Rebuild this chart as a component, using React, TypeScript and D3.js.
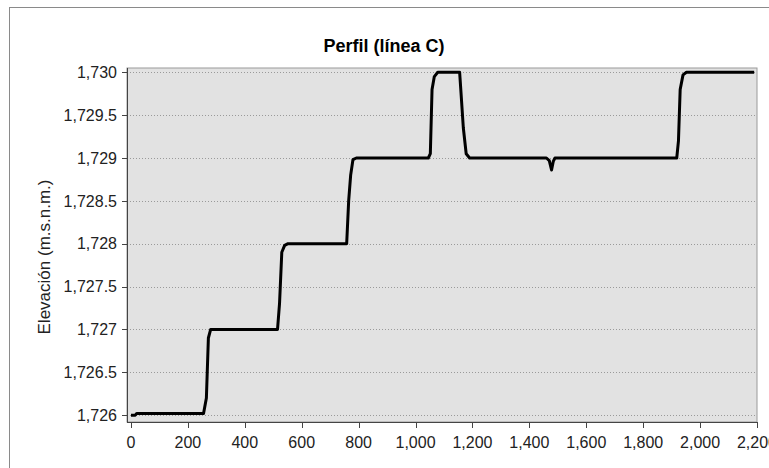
import React from "react";
import * as d3 from "d3";

const distance = [0, 15, 20, 255, 265, 272, 280, 515, 522, 530, 540, 552, 758, 765, 772, 780, 792, 1045, 1052, 1058, 1066, 1078, 1155, 1160, 1168, 1178, 1190, 1460, 1470, 1478, 1484, 1490, 1918, 1924, 1930, 1940, 1952, 2190];
const elevation = [1726.0, 1726.0, 1726.02, 1726.02, 1726.2, 1726.9, 1727.0, 1727.0, 1727.3, 1727.9, 1727.98, 1728.0, 1728.0, 1728.5, 1728.8, 1728.98, 1729.0, 1729.0, 1729.05, 1729.8, 1729.95, 1730.0, 1730.0, 1729.75, 1729.35, 1729.05, 1729.0, 1729.0, 1728.97, 1728.86, 1728.96, 1729.0, 1729.0, 1729.2, 1729.8, 1729.97, 1730.0, 1730.0];
const xTicks = [0, 200, 400, 600, 800, 1000, 1200, 1400, 1600, 1800, 2000, 2200];
const yTicks = [1726, 1726.5, 1727, 1727.5, 1728, 1728.5, 1729, 1729.5, 1730];

const W = 769, H = 468;
const left = 127, right = 757, top = 68, bottom = 422;

export default function App() {
  const x = d3.scaleLinear().domain([-14, 2200]).range([left, right]);
  const y = d3.scaleLinear().domain([1725.92, 1730.05]).range([bottom, top]);
  const fmtX = d3.format(",");
  const fmtY = (v: number) => d3.format(",")(v);
  const pts = distance.map((d, i) => [d, elevation[i]] as [number, number]);
  const line = d3.line<[number, number]>().x(d => x(d[0])).y(d => y(d[1]))(pts) || "";
  const font = "'Liberation Sans', Arial, sans-serif";
  return (
    <svg width={W} height={H} style={{ position: "absolute", left: 0, top: 0, background: "#fff" }} fontFamily={font}>
      <rect x={9.5} y={7.5} width={800} height={500} fill="#fff" stroke="#8a8a8a" />
      <text x={384} y={52} textAnchor="middle" fontSize={18} fontWeight="bold" fill="#000">Perfil (línea C)</text>
      <rect x={left} y={top} width={right - left} height={bottom - top} fill="#e2e2e2" stroke="#9a9a9a" />
      {yTicks.map(t => (
        <line key={"g" + t} x1={left} x2={right} y1={Math.round(y(t)) + 0.5} y2={Math.round(y(t)) + 0.5} stroke="#9a9a9a" strokeDasharray="1,2" />
      ))}
      <path d={line} fill="none" stroke="#000" strokeWidth={3} strokeLinejoin="round" />
      <line x1={left + 0.5} x2={left + 0.5} y1={top} y2={bottom} stroke="#444" />
      <line x1={left} x2={right} y1={bottom + 0.5} y2={bottom + 0.5} stroke="#444" />
      {yTicks.map(t => (
        <g key={"y" + t}>
          <line x1={left - 5} x2={left} y1={Math.round(y(t)) + 0.5} y2={Math.round(y(t)) + 0.5} stroke="#444" />
          <text x={left - 10} y={y(t)} dy="0.36em" textAnchor="end" fontSize={16} fill="#222">{fmtY(t)}</text>
        </g>
      ))}
      {xTicks.map(t => (
        <g key={"x" + t}>
          <line x1={Math.round(x(t)) + 0.5} x2={Math.round(x(t)) + 0.5} y1={bottom} y2={bottom + 6} stroke="#444" />
          <text x={x(t)} y={448} textAnchor="middle" fontSize={16} fill="#222">{fmtX(t)}</text>
        </g>
      ))}
      <text transform={`translate(50,${257}) rotate(-90)`} textAnchor="middle" fontSize={17} fill="#222">Elevación (m.s.n.m.)</text>
    </svg>
  );
}
